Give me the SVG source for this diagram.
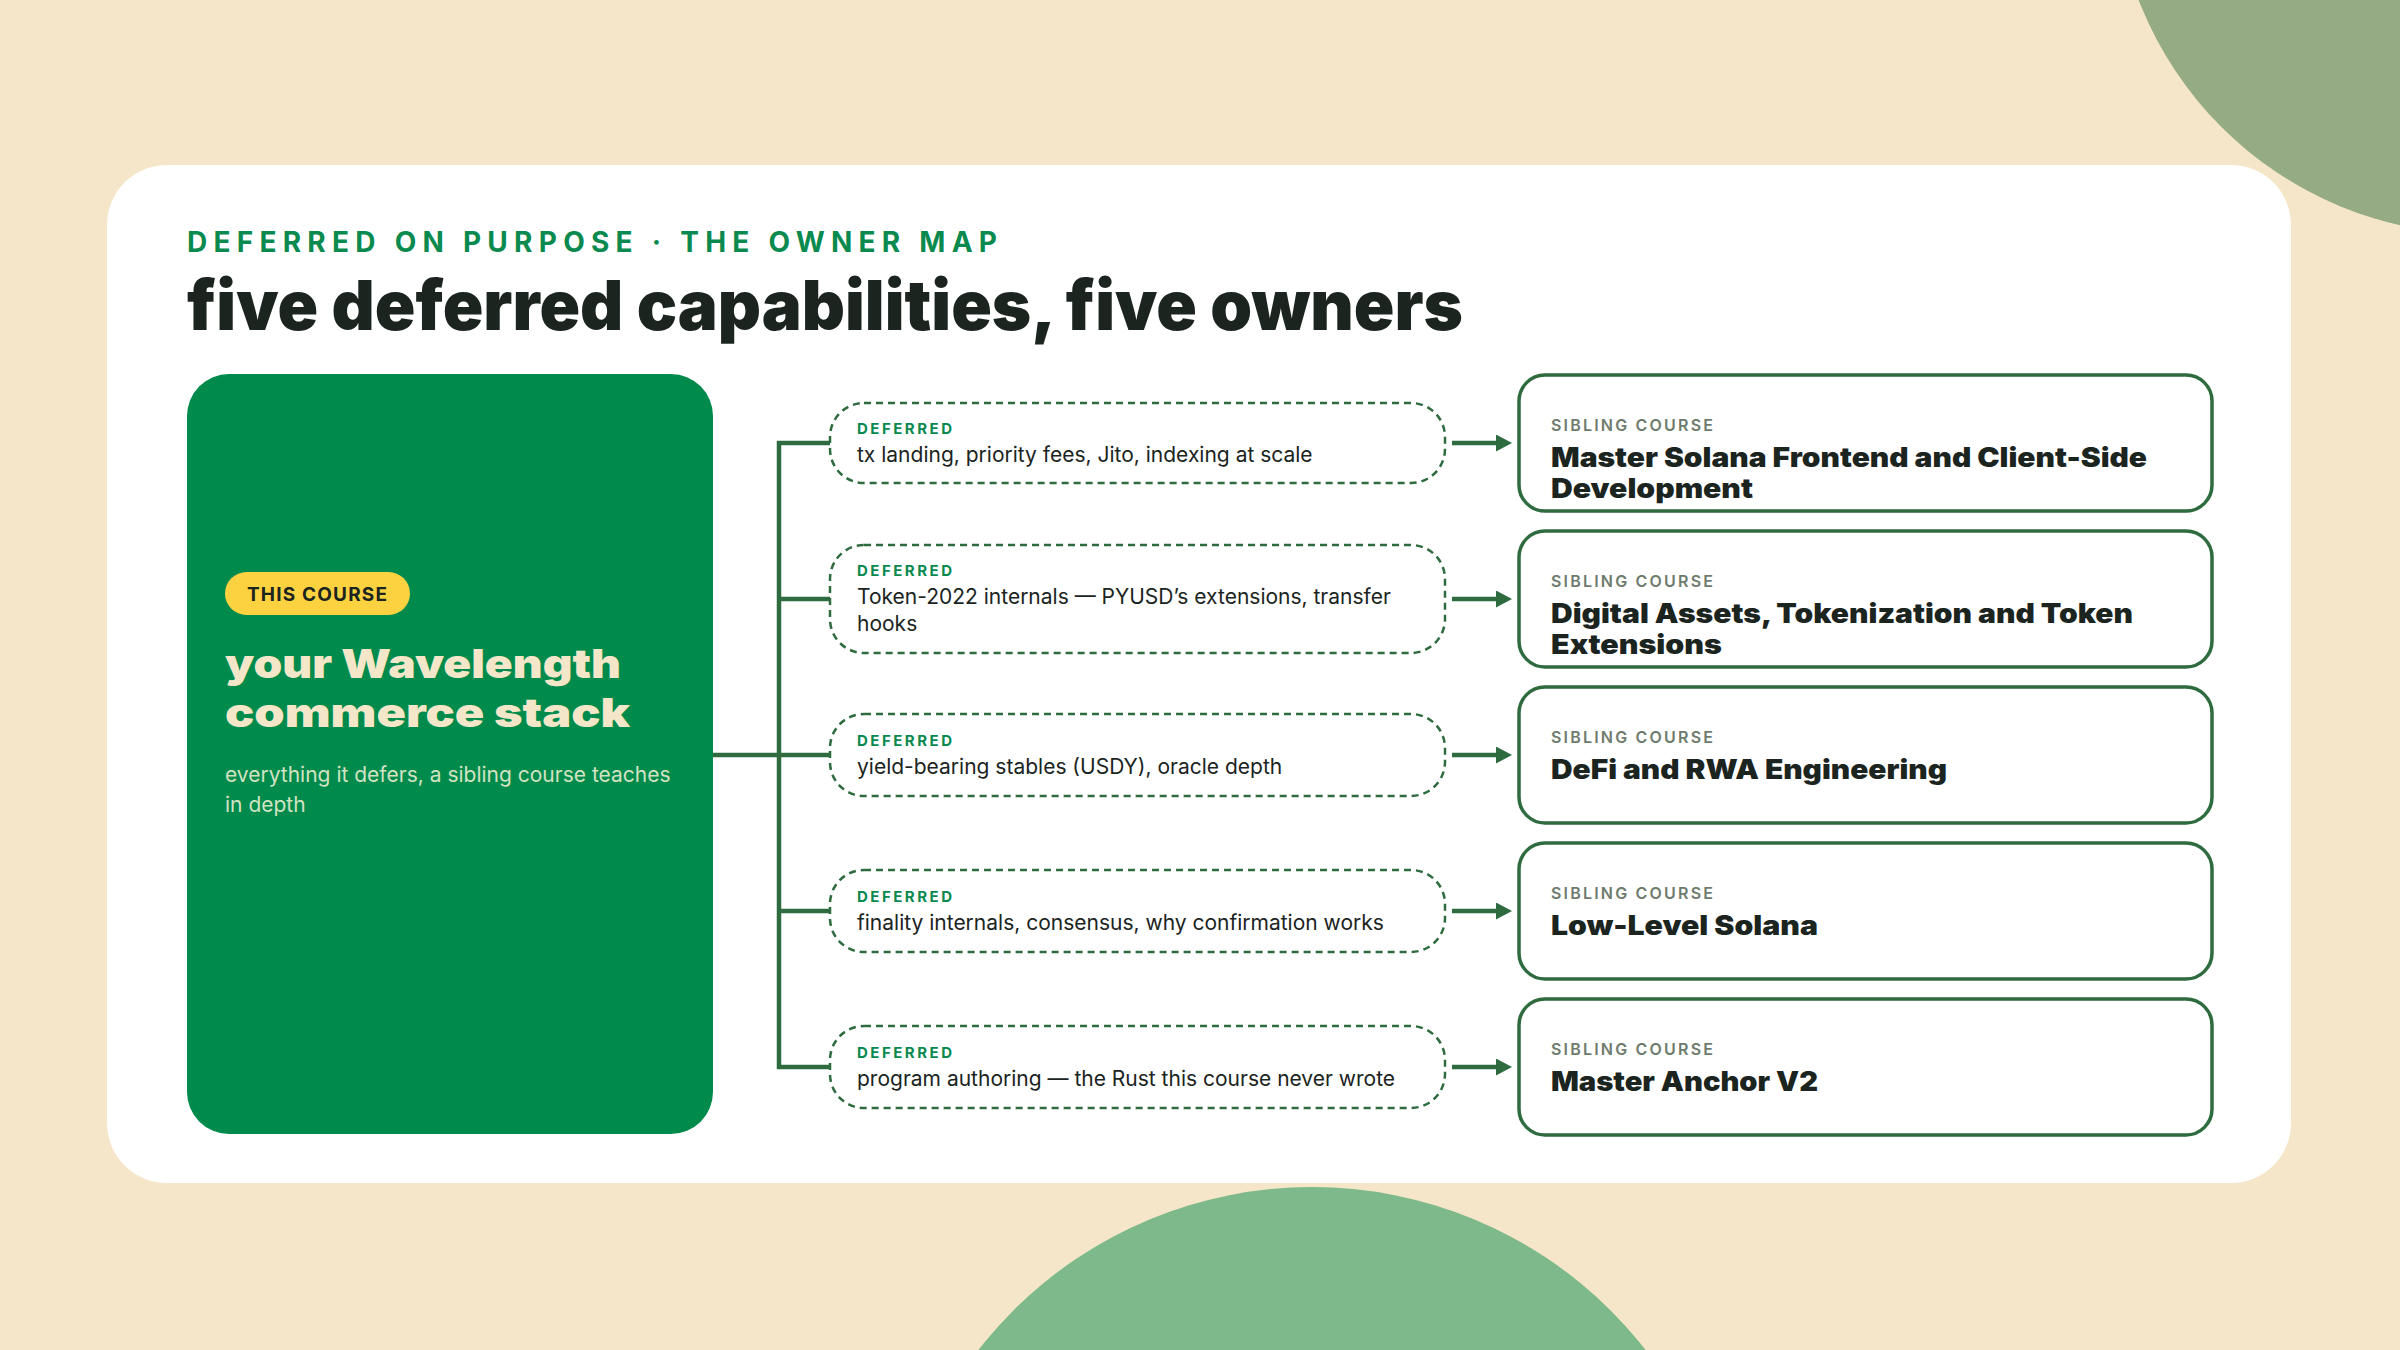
<svg xmlns="http://www.w3.org/2000/svg" width="2400" height="1350" viewBox="0 0 2400 1350">
<defs>
<style>
.eyebrow{font-family:Inter,"Noto Sans",sans-serif;font-weight:700;font-size:28px;fill:#0A8A4E}
.title{font-family:Inter,"Noto Sans",sans-serif;font-weight:900;font-size:69px;fill:#1B241E}
.badge{font-family:Inter,"Noto Sans",sans-serif;font-weight:700;font-size:19px;fill:#1B241E}
.ptitle{font-family:Inter,"Noto Sans",sans-serif;font-weight:900;font-size:40px;fill:#F4E6C8}
.psub{font-family:Inter,"Noto Sans",sans-serif;font-weight:400;font-size:21px;fill:#D2E3C2}
.dlab{font-family:Inter,"Noto Sans",sans-serif;font-weight:700;font-size:15px;fill:#0A8A4E}
.dtxt{font-family:Inter,"Noto Sans",sans-serif;font-weight:400;font-size:21px;fill:#1B241E}
.slab{font-family:Inter,"Noto Sans",sans-serif;font-weight:600;font-size:16px;fill:#6E7B6E}
.stit{font-family:Inter,"Noto Sans",sans-serif;font-weight:900;font-size:27px;fill:#1B241E}
.dbox{fill:#FFFFFF;stroke:#2E6B3E;stroke-width:2.5;stroke-dasharray:7 5}
.sbox{fill:#FFFFFF;stroke:#2E6B3E;stroke-width:3.5}
.conn{fill:none;stroke:#2E6B3E;stroke-width:4.5}
</style>
<marker id="ah" markerUnits="userSpaceOnUse" markerWidth="18" markerHeight="18" refX="4" refY="8.5" orient="auto">
<path d="M0,0 L16,8.5 L0,17 Z" fill="#2E6B3E"/>
</marker>
</defs>
<rect x="0" y="0" width="2400" height="1350" fill="#F5E6C9"/>
<circle cx="2480" cy="-132" r="366" fill="#94AB84"/>
<circle cx="1312" cy="1610" r="423" fill="#7DB98A"/>
<rect x="107" y="165" width="2184" height="1018" rx="60" fill="#FFFFFF"/>

<g id="header">
<text class="eyebrow" x="187" y="252" textLength="810" lengthAdjust="spacing">DEFERRED ON PURPOSE · THE OWNER MAP</text>
<text class="title" x="187" y="330" textLength="1276" lengthAdjust="spacingAndGlyphs">five deferred capabilities, five owners</text>
</g>

<g id="this-course">
<rect x="187" y="374" width="526" height="760" rx="42" fill="#008A4C"/>
<rect x="225" y="572" width="185" height="43" rx="21.5" fill="#FCD240"/>
<text class="badge" x="247" y="601" textLength="140" lengthAdjust="spacing">THIS COURSE</text>
<text class="ptitle" x="225" y="678" textLength="396" lengthAdjust="spacingAndGlyphs">your Wavelength</text>
<text class="ptitle" x="225" y="727" textLength="405" lengthAdjust="spacingAndGlyphs">commerce stack</text>
<text class="psub" x="225" y="782">everything it defers, a sibling course teaches</text>
<text class="psub" x="225" y="812">in depth</text>
</g>

<g id="connectors">
<path class="conn" d="M713,755 H779 M779,441 V1069 M777,443 H830 M779,599 H830 M779,755 H830 M779,911 H830 M777,1067 H830"/>
<line class="conn" x1="1452" y1="443" x2="1500" y2="443" marker-end="url(#ah)"/>
<line class="conn" x1="1452" y1="599" x2="1500" y2="599" marker-end="url(#ah)"/>
<line class="conn" x1="1452" y1="755" x2="1500" y2="755" marker-end="url(#ah)"/>
<line class="conn" x1="1452" y1="911" x2="1500" y2="911" marker-end="url(#ah)"/>
<line class="conn" x1="1452" y1="1067" x2="1500" y2="1067" marker-end="url(#ah)"/>
</g>

<g id="deferred-1">
<rect class="dbox" x="830" y="403" width="615" height="80" rx="34"/>
<text class="dlab" x="857" y="434" textLength="95" lengthAdjust="spacing">DEFERRED</text>
<text class="dtxt" x="857" y="462">tx landing, priority fees, Jito, indexing at scale</text>
</g>
<g id="deferred-2">
<rect class="dbox" x="830" y="545" width="615" height="108" rx="34"/>
<text class="dlab" x="857" y="576" textLength="95" lengthAdjust="spacing">DEFERRED</text>
<text class="dtxt" x="857" y="604">Token-2022 internals — PYUSD’s extensions, transfer</text>
<text class="dtxt" x="857" y="631">hooks</text>
</g>
<g id="deferred-3">
<rect class="dbox" x="830" y="714" width="615" height="82" rx="34"/>
<text class="dlab" x="857" y="746" textLength="95" lengthAdjust="spacing">DEFERRED</text>
<text class="dtxt" x="857" y="774">yield-bearing stables (USDY), oracle depth</text>
</g>
<g id="deferred-4">
<rect class="dbox" x="830" y="870" width="615" height="82" rx="34"/>
<text class="dlab" x="857" y="902" textLength="95" lengthAdjust="spacing">DEFERRED</text>
<text class="dtxt" x="857" y="930">finality internals, consensus, why confirmation works</text>
</g>
<g id="deferred-5">
<rect class="dbox" x="830" y="1026" width="615" height="82" rx="34"/>
<text class="dlab" x="857" y="1058" textLength="95" lengthAdjust="spacing">DEFERRED</text>
<text class="dtxt" x="857" y="1086">program authoring — the Rust this course never wrote</text>
</g>

<g id="sibling-1">
<rect class="sbox" x="1519" y="375" width="693" height="136" rx="26"/>
<text class="slab" x="1551" y="431" textLength="162" lengthAdjust="spacing">SIBLING COURSE</text>
<text class="stit" x="1551" y="467" textLength="596" lengthAdjust="spacingAndGlyphs">Master Solana Frontend and Client-Side</text>
<text class="stit" x="1551" y="498" textLength="202" lengthAdjust="spacingAndGlyphs">Development</text>
</g>
<g id="sibling-2">
<rect class="sbox" x="1519" y="531" width="693" height="136" rx="26"/>
<text class="slab" x="1551" y="587" textLength="162" lengthAdjust="spacing">SIBLING COURSE</text>
<text class="stit" x="1551" y="623" textLength="582" lengthAdjust="spacingAndGlyphs">Digital Assets, Tokenization and Token</text>
<text class="stit" x="1551" y="654" textLength="171" lengthAdjust="spacingAndGlyphs">Extensions</text>
</g>
<g id="sibling-3">
<rect class="sbox" x="1519" y="687" width="693" height="136" rx="26"/>
<text class="slab" x="1551" y="743" textLength="162" lengthAdjust="spacing">SIBLING COURSE</text>
<text class="stit" x="1551" y="779" textLength="396" lengthAdjust="spacingAndGlyphs">DeFi and RWA Engineering</text>
</g>
<g id="sibling-4">
<rect class="sbox" x="1519" y="843" width="693" height="136" rx="26"/>
<text class="slab" x="1551" y="899" textLength="162" lengthAdjust="spacing">SIBLING COURSE</text>
<text class="stit" x="1551" y="935" textLength="267" lengthAdjust="spacingAndGlyphs">Low-Level Solana</text>
</g>
<g id="sibling-5">
<rect class="sbox" x="1519" y="999" width="693" height="136" rx="26"/>
<text class="slab" x="1551" y="1055" textLength="162" lengthAdjust="spacing">SIBLING COURSE</text>
<text class="stit" x="1551" y="1091" textLength="267" lengthAdjust="spacingAndGlyphs">Master Anchor V2</text>
</g>
</svg>
